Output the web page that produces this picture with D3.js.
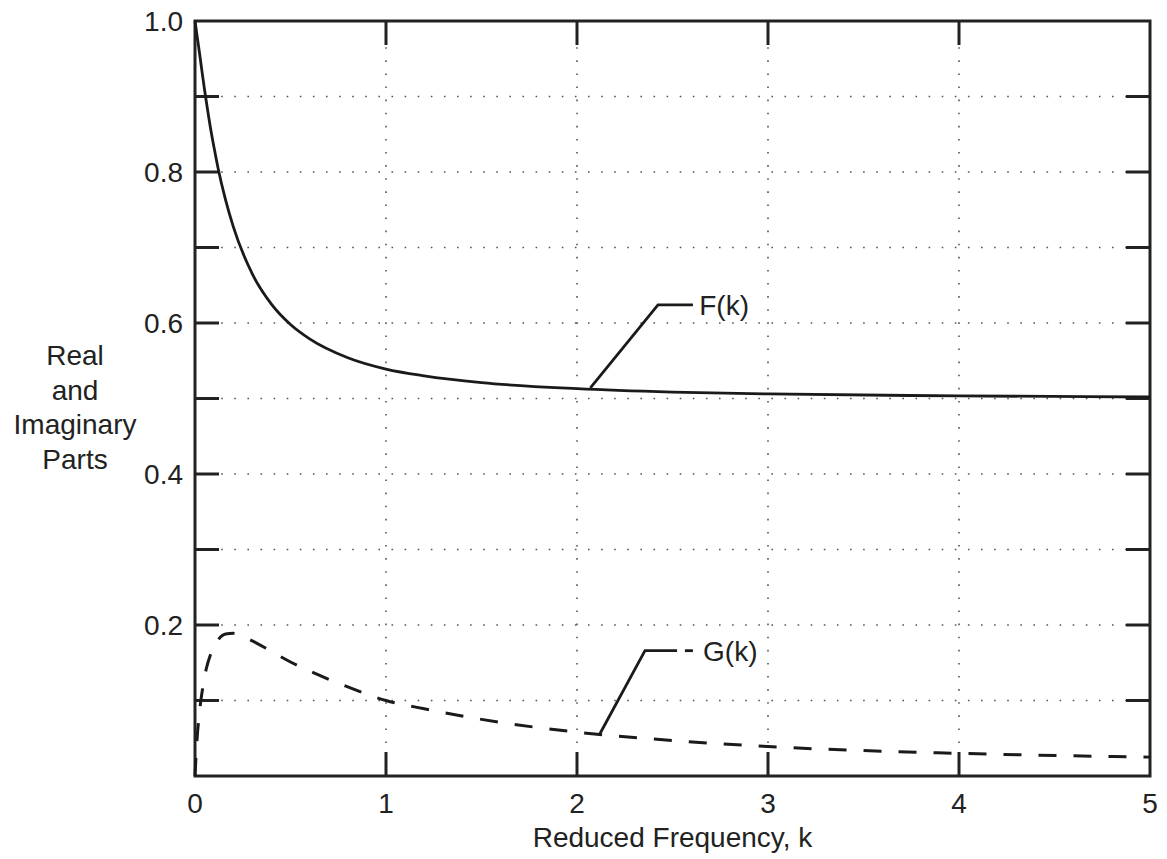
<!DOCTYPE html>
<html>
<head>
<meta charset="utf-8">
<script src="https://cdn.jsdelivr.net/npm/d3@7"></script>
<style>
  body { margin: 0; background: #fff; }
  text { font-family: "Liberation Sans", Arial, Helvetica, sans-serif; fill: #222; }
</style>
</head>
<body>
<svg id="chart"></svg>
<script>
// Reduced frequency k, and the real / imaginary parts
const kValues = [0, 0.01, 0.025, 0.04, 0.05, 0.06, 0.08, 0.1, 0.12, 0.16, 0.2, 0.3, 0.4, 0.5, 0.6, 0.8, 1.0, 1.2, 1.5, 2.0, 2.5, 3.0, 4.0, 5.0];
const fValues = [1.0, 0.982, 0.955, 0.927, 0.909, 0.892, 0.860, 0.832, 0.806, 0.763, 0.728, 0.665, 0.625, 0.598, 0.579, 0.554, 0.539, 0.530, 0.521, 0.513, 0.5085, 0.506, 0.5035, 0.502];
const gValues = [0, 0.046, 0.088, 0.116, 0.131, 0.143, 0.160, 0.172, 0.180, 0.188, 0.189, 0.179, 0.165, 0.151, 0.139, 0.118, 0.100, 0.089, 0.075, 0.058, 0.047, 0.039, 0.030, 0.025];

const xTicks = [0, 1, 2, 3, 4, 5];
const yTickLabels = [0.2, 0.4, 0.6, 0.8, 1.0];
const yGrid = [0.1, 0.2, 0.3, 0.4, 0.5, 0.6, 0.7, 0.8, 0.9];
const yTitle = ["Real", "and", "Imaginary", "Parts"];

const width = 1167, height = 859;
const margin = { left: 195, top: 21, right: 17, bottom: 83 };
const w = width - margin.left - margin.right;
const h = height - margin.top - margin.bottom;

const svg = d3.select("#chart").attr("width", width).attr("height", height);
const g = svg.append("g").attr("transform", `translate(${margin.left},${margin.top})`);

const x = d3.scaleLinear().domain([0, 5]).range([0, w]);
const y = d3.scaleLinear().domain([0, 1]).range([h, 0]);

// dotted grid
g.append("g").selectAll("line").data(yGrid).enter().append("line")
    .attr("x1", 0).attr("x2", w)
    .attr("y1", d => y(d)).attr("y2", d => y(d))
    .attr("stroke", "#555").attr("stroke-width", 1.6)
    .attr("stroke-dasharray", "1.6,11.5");
g.append("g").selectAll("line").data(xTicks.slice(1, -1)).enter().append("line")
    .attr("x1", d => x(d)).attr("x2", d => x(d))
    .attr("y1", 0).attr("y2", h)
    .attr("stroke", "#555").attr("stroke-width", 1.6)
    .attr("stroke-dasharray", "1.6,11.5");

// inward tick marks on all four sides
const tickLen = 24;
const ticks = g.append("g").attr("stroke", "#222").attr("stroke-width", 3);
xTicks.slice(1, -1).forEach(d => {
    ticks.append("line").attr("x1", x(d)).attr("x2", x(d)).attr("y1", h).attr("y2", h - tickLen);
    ticks.append("line").attr("x1", x(d)).attr("x2", x(d)).attr("y1", 0).attr("y2", tickLen);
});
yGrid.forEach(d => {
    ticks.append("line").attr("x1", 0).attr("x2", tickLen).attr("y1", y(d)).attr("y2", y(d));
    ticks.append("line").attr("x1", w).attr("x2", w - tickLen).attr("y1", y(d)).attr("y2", y(d));
});

// frame
g.append("rect").attr("width", w).attr("height", h)
    .attr("fill", "none").attr("stroke", "#222").attr("stroke-width", 3);

// tick labels
g.append("g").selectAll("text").data(xTicks).enter().append("text")
    .attr("x", d => x(d)).attr("y", h + 37)
    .attr("text-anchor", "middle").attr("font-size", 28)
    .text(d => d);
g.append("g").selectAll("text").data(yTickLabels).enter().append("text")
    .attr("x", -12).attr("y", d => y(d)).attr("dy", "0.36em")
    .attr("text-anchor", "end").attr("font-size", 28)
    .text(d => d.toFixed(1));

// axis titles
g.append("text").attr("x", w / 2).attr("y", h + 71)
    .attr("text-anchor", "middle").attr("font-size", 28)
    .text("Reduced Frequency, k");
svg.append("g").selectAll("text").data(yTitle).enter().append("text")
    .attr("x", 75).attr("y", (d, i) => 365 + i * 34.5)
    .attr("text-anchor", "middle").attr("font-size", 28)
    .text(d => d);

// curves
const fData = kValues.map((k, i) => ({ k: k, v: fValues[i] }));
const gData = kValues.map((k, i) => ({ k: k, v: gValues[i] }));
const line = d3.line().x(d => x(d.k)).y(d => y(d.v)).curve(d3.curveMonotoneX);

g.append("path").datum(fData).attr("d", line)
    .attr("fill", "none").attr("stroke", "#1a1a1a").attr("stroke-width", 2.8);
g.append("path").datum(gData).attr("d", line)
    .attr("fill", "none").attr("stroke", "#1a1a1a").attr("stroke-width", 3)
    .attr("stroke-dasharray", "18,17");

// leader lines and labels
const lead = g.append("g").attr("fill", "none").attr("stroke", "#1a1a1a").attr("stroke-width", 2.8);
lead.append("path").attr("d", d3.line()([[x(2.07), y(0.514)], [x(2.424), y(0.624)], [x(2.607), y(0.624)]]));
g.append("text").attr("x", x(2.64)).attr("y", y(0.624) + 10).attr("font-size", 28).text("F(k)");

lead.append("path").attr("d", d3.line()([[x(2.12), y(0.056)], [x(2.356), y(0.166)], [x(2.524), y(0.166)]]));
lead.append("path").attr("d", d3.line()([[x(2.565), y(0.166)], [x(2.607), y(0.166)]]));
g.append("text").attr("x", x(2.66)).attr("y", y(0.166) + 10).attr("font-size", 28).text("G(k)");
</script>
</body>
</html>
